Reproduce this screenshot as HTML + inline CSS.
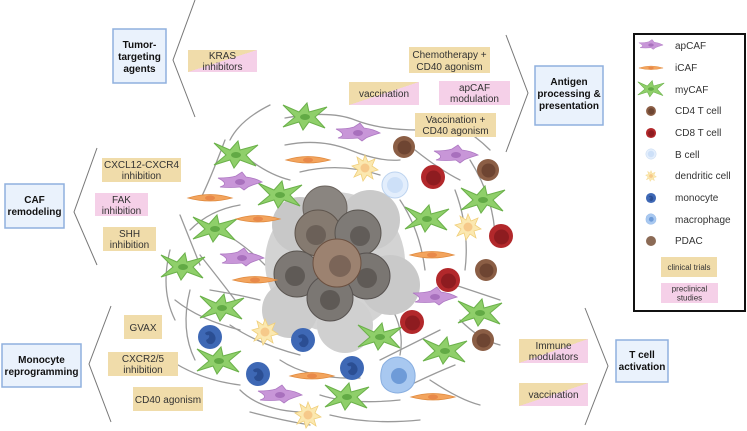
<!DOCTYPE html>
<html><head><meta charset="utf-8"><style>
html,body{margin:0;padding:0;background:#fff;}
svg{display:block;}
text{font-family:"Liberation Sans",sans-serif;}
.l{font-size:10px;fill:#333;text-anchor:middle;}
.b{font-size:10px;font-weight:bold;fill:#111;text-anchor:middle;}
.g{font-size:10px;fill:#333;}
.f{fill:none;stroke:#9a9a9a;stroke-width:1.3;stroke-linecap:round;}
</style></head><body>
<svg width="747" height="431" viewBox="0 0 747 431" xmlns="http://www.w3.org/2000/svg">
<defs>
<linearGradient id="sp" x1="0" y1="0" x2="1" y2="1"><stop offset="0.5" stop-color="#f0dcaa"/><stop offset="0.5" stop-color="#f5d0e8"/></linearGradient>
<g id="my"><path d="M-22,-12 L-6,-5 L2,-14 L4,-5 L22,-10 L10,0 L20,11 L4,5 L-2,13 L-6,5 L-22,10 L-10,0 Z" fill="#8fcf6a" stroke="#6bb14a" stroke-width="1"/><ellipse cx="0" cy="0" rx="5" ry="3" fill="#62aa45"/></g>
<g id="ic"><path d="M-22,0 Q0,-7 22,0 Q0,6 -22,0Z" fill="#f3a45d" stroke="#e08a3e" stroke-width="0.8"/><ellipse cx="0" cy="0" rx="5" ry="2.5" fill="#e8894a"/></g>
<g id="ap"><path d="M-22,-4 Q-10,-4 -4,-6 L2,-10 L6,-5 Q15,-4 22,0 Q12,3 8,5 L4,8 L0,5 Q-10,6 -20,5 Q-10,2 -22,-4Z" fill="#c896d8" stroke="#ad78c2" stroke-width="0.8"/><ellipse cx="0" cy="0" rx="5" ry="3" fill="#a870bd"/></g>
<g id="c4"><circle r="11" fill="#8b5e45"/><circle r="7" cx="0.5" cy="0.5" fill="#6e4532"/></g>
<g id="c8"><circle r="12" fill="#b2282b"/><circle r="7.5" cx="0.5" cy="1" fill="#8e1c20"/></g>
<g id="bc"><circle r="13" fill="#e3eefc" stroke="#bcd3ef" stroke-width="1"/><circle r="8" fill="#cde0f8"/></g>
<g id="dc"><path d="M0,-13 L3,-6 L10,-9 L7,-2 L13,2 L6,4 L8,11 L2,7 L-2,13 L-4,6 L-11,9 L-7,2 L-13,-2 L-6,-4 L-8,-11 L-2,-7Z" fill="#fbe8b0" stroke="#f0cf7a" stroke-width="0.8"/><circle r="4.5" fill="#f6c98a"/></g>
<g id="mo"><circle r="12" fill="#3e68b5"/><path d="M-5,-4 Q0,-8 4,-3 Q8,3 2,7 Q-3,8 -4,3 Q0,1 -1,-2 Q-4,-1 -5,-4Z" fill="#2b4e93"/></g>
<g id="ma"><path d="M0,-18 Q9,-17 14,-10 Q19,-2 16,8 Q12,17 0,18 Q-11,18 -16,9 Q-19,0 -15,-10 Q-9,-18 0,-18Z" fill="#a8c8f0" stroke="#88aee0" stroke-width="1"/><circle r="8" cx="1" cy="1" fill="#6e9bd8"/></g>
</defs>

<!-- fibers -->
<g class="f">
<path d="M285,118 Q330,110 355,120 T420,130"/>
<path d="M270,105 Q240,120 230,140"/>
<path d="M285,145 Q320,138 350,150 T400,160"/>
<path d="M300,172 Q340,162 380,175"/>
<path d="M225,140 Q210,180 200,200"/>
<path d="M180,215 Q190,240 200,265"/>
<path d="M190,230 Q210,210 240,205"/>
<path d="M170,250 Q160,290 175,320"/>
<path d="M200,255 Q220,280 235,300"/>
<path d="M175,300 Q200,320 240,330"/>
<path d="M190,290 Q180,330 195,360"/>
<path d="M230,325 Q260,345 300,355"/>
<path d="M170,360 Q200,380 240,385"/>
<path d="M240,390 Q260,410 300,412"/>
<path d="M280,360 Q310,380 360,378"/>
<path d="M320,395 Q350,405 400,400"/>
<path d="M330,415 Q370,425 420,420"/>
<path d="M380,360 Q410,345 440,330"/>
<path d="M400,390 Q430,375 455,365"/>
<path d="M430,380 Q460,400 480,405"/>
<path d="M415,150 Q440,170 460,180"/>
<path d="M400,200 Q420,230 425,270"/>
<path d="M455,190 Q470,230 465,270"/>
<path d="M470,160 Q495,200 495,240"/>
<path d="M440,280 Q470,290 500,300"/>
<path d="M390,305 Q405,330 400,355"/>
<path d="M460,320 Q480,340 500,345"/>
<path d="M250,160 Q270,175 290,180"/>
<path d="M235,240 Q250,250 265,265"/>
<path d="M210,290 Q240,295 260,300"/>
<path d="M445,120 Q470,130 490,150"/>
<path d="M250,412 Q280,420 310,425"/>
</g>

<!-- tumor -->
<g>
<circle cx="335" cy="262" r="70" fill="#d3d3d3"/>
<circle cx="300" cy="225" r="28" fill="#c8c8c8"/>
<circle cx="370" cy="220" r="30" fill="#cacaca"/>
<circle cx="390" cy="285" r="30" fill="#c9c9c9"/>
<circle cx="290" cy="310" r="28" fill="#cccccc"/>
<circle cx="345" cy="325" r="28" fill="#d0d0d0"/>
<circle cx="325" cy="208" r="22" fill="#8a8580" stroke="#6d6660"/>
<circle cx="318" cy="233" r="23" fill="#857a70" stroke="#5e544c"/><circle cx="316" cy="235" r="10" fill="#6b6058"/>
<circle cx="358" cy="233" r="23" fill="#7e7a76" stroke="#5a5550"/><circle cx="360" cy="236" r="10" fill="#615c58"/>
<circle cx="297" cy="274" r="23" fill="#7d7874" stroke="#5a5550"/><circle cx="295" cy="276" r="10" fill="#5f5a56"/>
<circle cx="367" cy="276" r="23" fill="#7a7672" stroke="#575250"/><circle cx="367" cy="278" r="10" fill="#5f5a56"/>
<circle cx="330" cy="298" r="23" fill="#7b7773" stroke="#575250"/><circle cx="330" cy="300" r="10" fill="#5e5955"/>
<circle cx="337" cy="263" r="24" fill="#9c8270" stroke="#6b5040"/><circle cx="340" cy="266" r="11" fill="#7b6558"/>
</g>

<!-- cells -->
<g>
<use href="#my" x="305" y="117"/><use href="#my" x="236" y="155"/><use href="#my" x="280" y="195"/>
<use href="#my" x="215" y="229"/><use href="#my" x="183" y="267"/><use href="#my" x="222" y="308"/>
<use href="#my" x="219" y="361"/><use href="#my" x="347" y="397"/><use href="#my" x="380" y="337"/>
<use href="#my" x="427" y="219"/><use href="#my" x="483" y="200"/><use href="#my" x="480" y="313"/>
<use href="#my" x="445" y="351"/>
<use href="#ic" x="308" y="160"/><use href="#ic" x="210" y="198"/><use href="#ic" x="258" y="219"/>
<use href="#ic" x="255" y="280"/><use href="#ic" x="432" y="255"/><use href="#ic" x="312" y="376"/>
<use href="#ic" x="433" y="397"/>
<use href="#ap" x="358" y="133"/><use href="#ap" x="240" y="182"/><use href="#ap" x="242" y="258"/>
<use href="#ap" x="435" y="297"/><use href="#ap" x="456" y="155"/><use href="#ap" x="280" y="395"/>
<use href="#c4" x="404" y="147"/><use href="#c4" x="488" y="170"/><use href="#c4" x="486" y="270"/><use href="#c4" x="483" y="340"/>
<use href="#c8" x="433" y="177"/><use href="#c8" x="501" y="236"/><use href="#c8" x="448" y="280"/><use href="#c8" x="412" y="322"/>
<use href="#bc" x="395" y="185"/>
<use href="#dc" x="365" y="168"/><use href="#dc" x="265" y="332"/><use href="#dc" x="468" y="227"/><use href="#dc" x="308" y="415"/>
<use href="#mo" x="210" y="337"/><use href="#mo" x="303" y="340"/><use href="#mo" x="258" y="374"/><use href="#mo" x="352" y="368"/>
<use href="#ma" x="398" y="375"/>
</g>

<!-- chevrons -->
<g fill="none" stroke="#777" stroke-width="1">
<polyline points="195,0 173,60 195,117"/>
<polyline points="97,148 74,212 97,265"/>
<polyline points="111,306 89,364 111,422"/>
<polyline points="506,35 528,93 506,152"/>
<polyline points="585,308 608,366 585,425"/>
</g>

<!-- blue boxes -->
<g fill="#eaf2fc" stroke="#8fb0de" stroke-width="1.5">
<rect x="113" y="29" width="53" height="54"/>
<rect x="535" y="66" width="68" height="59"/>
<rect x="5" y="184" width="59" height="44"/>
<rect x="2" y="344" width="79" height="43"/>
<rect x="616" y="340" width="52" height="42"/>
</g>
<text class="b" x="139.5" y="48">Tumor-</text><text class="b" x="139.5" y="60">targeting</text><text class="b" x="139.5" y="72">agents</text>
<text class="b" x="569" y="85">Antigen</text><text class="b" x="569" y="97">processing &amp;</text><text class="b" x="569" y="109">presentation</text>
<text class="b" x="34.5" y="203">CAF</text><text class="b" x="34.5" y="215">remodeling</text>
<text class="b" x="41.5" y="363">Monocyte</text><text class="b" x="41.5" y="375">reprogramming</text>
<text class="b" x="642" y="358">T cell</text><text class="b" x="642" y="370">activation</text>

<!-- label boxes -->
<rect x="188" y="50" width="69" height="22" fill="url(#sp)"/>
<text class="l" x="222.5" y="59">KRAS</text><text class="l" x="222.5" y="70">inhibitors</text>
<rect x="409" y="47" width="81" height="26" fill="#f0dcaa"/>
<text class="l" x="449.5" y="58">Chemotherapy +</text><text class="l" x="449.5" y="70">CD40 agonism</text>
<rect x="349" y="82" width="70" height="23" fill="url(#sp)"/>
<text class="l" x="384" y="97">vaccination</text>
<rect x="439" y="81" width="71" height="24" fill="#f5d0e8"/>
<text class="l" x="474.5" y="91">apCAF</text><text class="l" x="474.5" y="102">modulation</text>
<rect x="415" y="113" width="81" height="24" fill="#f0dcaa"/>
<text class="l" x="455.5" y="123">Vaccination +</text><text class="l" x="455.5" y="134">CD40 agonism</text>
<rect x="102" y="158" width="79" height="24" fill="#f0dcaa"/>
<text class="l" x="141.5" y="168">CXCL12-CXCR4</text><text class="l" x="141.5" y="179">inhibition</text>
<rect x="95" y="193" width="53" height="23" fill="#f5d0e8"/>
<text class="l" x="121.5" y="203">FAK</text><text class="l" x="121.5" y="214">inhibition</text>
<rect x="103" y="227" width="53" height="24" fill="#f0dcaa"/>
<text class="l" x="129.5" y="237">SHH</text><text class="l" x="129.5" y="248">inhibition</text>
<rect x="124" y="315" width="38" height="24" fill="#f0dcaa"/>
<text class="l" x="143" y="331">GVAX</text>
<rect x="108" y="352" width="70" height="24" fill="#f0dcaa"/>
<text class="l" x="143" y="362">CXCR2/5</text><text class="l" x="143" y="373">inhibition</text>
<rect x="133" y="387" width="70" height="24" fill="#f0dcaa"/>
<text class="l" x="168" y="403">CD40 agonism</text>
<rect x="519" y="339" width="69" height="24" fill="url(#sp)"/>
<text class="l" x="553.5" y="349">Immune</text><text class="l" x="553.5" y="360">modulators</text>
<rect x="519" y="383" width="69" height="23" fill="url(#sp)"/>
<text class="l" x="553.5" y="398">vaccination</text>

<!-- legend -->
<rect x="634" y="34" width="111" height="277" fill="#fff" stroke="#111" stroke-width="2"/>
<g transform="translate(651,45) scale(0.55)"><use href="#ap"/></g><text class="g" x="675" y="49">apCAF</text>
<g transform="translate(651,68) scale(0.55)"><use href="#ic"/></g><text class="g" x="675" y="71">iCAF</text>
<g transform="translate(651,89) scale(0.6)"><use href="#my"/></g><text class="g" x="675" y="93">myCAF</text>
<g transform="translate(651,111) scale(0.45)"><use href="#c4"/></g><text class="g" x="675" y="114">CD4 T cell</text>
<g transform="translate(651,133) scale(0.42)"><use href="#c8"/></g><text class="g" x="675" y="136">CD8 T cell</text>
<g transform="translate(651,154) scale(0.4)"><use href="#bc"/></g><text class="g" x="675" y="158">B cell</text>
<g transform="translate(651,176) scale(0.42)"><use href="#dc"/></g><text class="g" x="675" y="179">dendritic cell</text>
<g transform="translate(651,198) scale(0.42)"><use href="#mo"/></g><text class="g" x="675" y="201">monocyte</text>
<g transform="translate(651,219) scale(0.3)"><use href="#ma"/></g><text class="g" x="675" y="223">macrophage</text>
<circle cx="651" cy="241" r="5" fill="#8b6a55"/><text class="g" x="675" y="244">PDAC</text>
<rect x="661" y="257" width="56" height="20" fill="#f0dcaa"/>
<text class="l" x="689" y="270" style="font-size:8px">clinical trials</text>
<rect x="661" y="283" width="57" height="20" fill="#f5d0e8"/>
<text class="l" x="689.5" y="291.5" style="font-size:8px">preclinical</text><text class="l" x="689.5" y="300.5" style="font-size:8px">studies</text>
</svg>
</body></html>
